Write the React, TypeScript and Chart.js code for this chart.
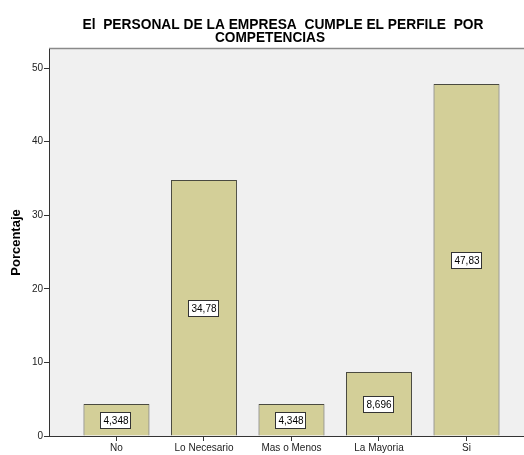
import React, { useEffect, useRef } from 'react';
import { Chart, registerables } from 'chart.js';

Chart.register(...registerables);

const categories = ['No', 'Lo Necesario', 'Mas o Menos', 'La Mayoria', 'Si'];
const percentages = [4.348, 34.78, 4.348, 8.696, 47.83];
const valueLabels = ['4,348', '34,78', '4,348', '8,696', '47,83'];
const yTicks = [0, 10, 20, 30, 40, 50];
const titleLines = ['El  PERSONAL DE LA EMPRESA  CUMPLE EL PERFILE  POR', 'COMPETENCIAS'];
const yAxisTitle = 'Porcentaje';

const FONT = '"Liberation Sans", Arial, sans-serif';

const plotBackground = {
  id: 'plotBackground',
  beforeDraw(chart: any) {
    const { ctx, chartArea } = chart;
    ctx.save();
    ctx.fillStyle = '#F0F0F0';
    ctx.fillRect(chartArea.left, chartArea.top - 1, chartArea.right - chartArea.left, chartArea.bottom - chartArea.top + 1);
    ctx.strokeStyle = '#8a8a8a';
    ctx.lineWidth = 1.5;
    ctx.beginPath();
    ctx.moveTo(chartArea.left, chartArea.top - 0.5);
    ctx.lineTo(chartArea.right, chartArea.top - 0.5);
    ctx.stroke();
    ctx.restore();
  },
};

const titlePlugin = {
  id: 'customTitle',
  afterDraw(chart: any) {
    const { ctx } = chart;
    const specs = [
      { cx: 283, base: 28.5, w: 401 },
      { cx: 270, base: 42, w: 110 },
    ];
    ctx.save();
    ctx.font = 'bold 15px ' + FONT;
    ctx.fillStyle = '#000';
    ctx.textBaseline = 'alphabetic';
    ctx.textAlign = 'center';
    titleLines.forEach((line, i) => {
      const s = specs[i];
      const m = ctx.measureText(line).width;
      const k = s.w / m;
      ctx.save();
      ctx.translate(s.cx, s.base);
      ctx.scale(k, 1);
      ctx.fillText(line, 0, 0);
      ctx.restore();
    });
    ctx.restore();
  },
};

const valueLabelPlugin = {
  id: 'valueLabels',
  afterDatasetsDraw(chart: any) {
    const { ctx } = chart;
    const meta = chart.getDatasetMeta(0);
    ctx.save();
    ctx.font = '10px ' + FONT;
    ctx.textAlign = 'center';
    ctx.textBaseline = 'middle';
    meta.data.forEach((el: any, i: number) => {
      const text = valueLabels[i];
      const cx = Math.round(el.x);
      const cy = Math.round((el.y + el.base) / 2);
      const w = Math.round(ctx.measureText(text).width) + 6;
      const h = 17;
      const x0 = cx - Math.round(w / 2);
      const y0 = Math.round(cy - h / 2);
      ctx.fillStyle = '#FFFFFF';
      ctx.fillRect(x0, y0, w, h);
      ctx.strokeStyle = '#333333';
      ctx.lineWidth = 1;
      ctx.strokeRect(x0 + 0.5, y0 + 0.5, w - 1, h - 1);
      ctx.fillStyle = '#000';
      ctx.fillText(text, cx, y0 + h / 2 + 0.5);
    });
    ctx.restore();
  },
};

export default function App() {
  const ref = useRef<HTMLCanvasElement | null>(null);

  useEffect(() => {
    if (!ref.current) return;
    const chart = new Chart(ref.current, {
      type: 'bar',
      data: {
        datasets: [
          {
            data: percentages.map((y, i) => ({ x: i, y })),
            backgroundColor: '#D3CF98',
            borderColor: '#4a4a40',
            borderWidth: 1,
            barPercentage: 0.754,
            categoryPercentage: 1,
          },
        ],
      },
      options: {
        animation: false,
        responsive: false,
        maintainAspectRatio: false,
        layout: { padding: { top: 49, right: 0, left: 0, bottom: 0 } },
        plugins: {
          legend: { display: false },
          title: { display: false },
          tooltip: { enabled: false },
        },
        scales: {
          x: {
            type: 'linear',
            offset: false,
            min: -0.771,
            max: 4.657,
            afterBuildTicks: (s: any) => {
              s.ticks = categories.map((_, i) => ({ value: i }));
            },
            afterFit: (s: any) => {
              s.height = 19;
            },
            ticks: {
              callback: (v: any) => categories[v as number],
              font: { family: FONT, size: 10 },
              color: '#222',
              padding: 1,
              autoSkip: false,
              maxRotation: 0,
            },
            grid: { offset: false, drawOnChartArea: false, drawTicks: true, tickLength: 5, color: '#333' },
            border: { color: '#333', width: 1 },
          },
          y: {
            type: 'linear',
            min: 0,
            max: 52.6,
            afterBuildTicks: (s: any) => {
              s.ticks = yTicks.map((v) => ({ value: v }));
            },
            afterFit: (s: any) => {
              s.width = 49;
            },
            ticks: {
              font: { family: FONT, size: 10 },
              color: '#222',
              padding: 1,
            },
            title: {
              display: true,
              text: yAxisTitle,
              font: { family: FONT, size: 13, weight: 'bold' },
              color: '#000',
              padding: { top: 9, bottom: 0 },
            },
            grid: { drawOnChartArea: false, drawTicks: true, tickLength: 5, color: '#333' },
            border: { color: '#333', width: 1 },
          },
        },
      },
      plugins: [plotBackground, valueLabelPlugin, titlePlugin],
    } as any);
    return () => chart.destroy();
  }, []);

  return (
    <div style={{ position: 'absolute', left: 0, top: 0, width: 524, height: 455, background: '#fff' }}>
      <canvas ref={ref} width={524} height={455} style={{ display: 'block' }} />
    </div>
  );
}
